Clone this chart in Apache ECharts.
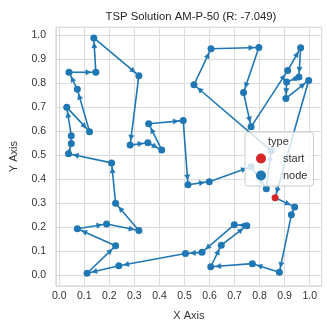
<!DOCTYPE html>
<html><head><meta charset="utf-8">
<script src="https://cdn.jsdelivr.net/npm/echarts@6/dist/echarts.min.js"></script>
<style>html,body{margin:0;padding:0;background:#fff}#c{width:327px;height:326px}</style>
</head><body><div id="c"></div>
<script>
// Tour order (first entry is the start node)
const tourX = [0.862,0.940,0.927,0.879,0.771,0.605,0.647,0.749,0.699,0.570,0.504,0.238,0.111,0.225,0.072,0.189,0.318,0.225,0.209,0.037,0.048,0.048,0.030,0.121,0.072,0.039,0.146,0.138,0.318,0.283,0.354,0.409,0.357,0.495,0.514,0.599,0.766,0.827,0.846,0.538,0.606,0.797,0.736,0.766,0.912,0.964,0.957,0.908,0.905,0.996];
const tourY = [0.322,0.284,0.251,0.012,0.048,0.035,0.125,0.206,0.210,0.095,0.090,0.039,0.008,0.122,0.193,0.213,0.186,0.299,0.467,0.505,0.548,0.580,0.698,0.597,0.773,0.844,0.844,0.987,0.830,0.541,0.551,0.521,0.630,0.643,0.376,0.389,0.451,0.360,0.518,0.792,0.942,0.947,0.760,0.617,0.851,0.946,0.824,0.803,0.735,0.810];
const xTicks = ['0.0','0.1','0.2','0.3','0.4','0.5','0.6','0.7','0.8','0.9','1.0'];
const titleText = 'TSP Solution AM-P-50 (R: -7.049)';

const BLUE = '#1f77b4', RED = '#d62728';
const segs = [];
for (let i = 0; i < tourX.length; i++) {
  const j = (i + 1) % tourX.length;
  segs.push([tourX[i], tourY[i], tourX[j], tourY[j]]);
}
const nodes = [];
for (let i = 1; i < tourX.length; i++) nodes.push([tourX[i], tourY[i]]);
const start = [[tourX[0], tourY[0]]];

const chart = echarts.init(document.getElementById('c'), null, {renderer: 'canvas'});
const FONT = 'Liberation Sans, Arial, sans-serif';
const axisCommon = {
  type: 'value', splitNumber: 10,
  axisLine: {show: false}, axisTick: {show: false},
  splitLine: {show: true, lineStyle: {color: '#dcdcdc', width: 1}},
  axisLabel: {color: '#333', fontSize: 10.5, fontFamily: FONT, showMinLabel: false, showMaxLabel: false,
    formatter: v => v.toFixed(1)},
  nameTextStyle: {color: '#333', fontSize: 11, fontFamily: FONT}
};
chart.setOption({
  animation: false,
  backgroundColor: '#fff',
  title: {text: titleText, left: 186, textAlign: 'center', top: 6,
    textStyle: {fontSize: 11.3, fontWeight: 'normal', color: '#262626', fontFamily: FONT}},
  grid: {left: 50, right: 5.3, top: 27.3, bottom: 34.3, show: true, borderColor: '#cccccc', borderWidth: 1},
  xAxis: Object.assign({}, axisCommon, {min: -0.013, max: 1.048, name: 'X Axis', nameLocation: 'middle', nameGap: 24,
    axisLabel: Object.assign({}, axisCommon.axisLabel, {margin: 5})}),
  yAxis: Object.assign({}, axisCommon, {min: -0.045, max: 1.031, name: 'Y Axis', nameLocation: 'middle', nameGap: 37,
    axisLabel: Object.assign({}, axisCommon.axisLabel, {margin: 10})}),
  legend: {
    orient: 'vertical', left: 245, top: 132, data: ['start', 'node'],
    padding: [21, 6, 5, 11], itemGap: 6, itemWidth: 10, itemHeight: 10,
    backgroundColor: 'rgba(255,255,255,0.8)', borderColor: '#cccccc', borderWidth: 1, borderRadius: 3,
    textStyle: {color: '#333', fontSize: 11, fontFamily: FONT, padding: [0, 0, 0, 12]},
    icon: 'circle'
  },
  graphic: [{type: 'text', left: 268, top: 136, z: 100,
    style: {text: 'type', fill: '#333', font: '11px Liberation Sans, Arial, sans-serif'}}],
  series: [
    {
      type: 'custom', name: 'tour', z: 2, silent: true,
      data: segs,
      renderItem: function (params, api) {
        const p1 = api.coord([api.value(0), api.value(1)]);
        const p2 = api.coord([api.value(2), api.value(3)]);
        const dx = p2[0] - p1[0], dy = p2[1] - p1[1];
        const L = Math.sqrt(dx * dx + dy * dy) || 1;
        const ux = dx / L, uy = dy / L;
        const tipD = 5, len = 5, hw = 2.6;
        const tx = p2[0] - ux * tipD, ty = p2[1] - uy * tipD;
        const bx = tx - ux * len, by = ty - uy * len;
        return {
          type: 'group', children: [
            {type: 'line', shape: {x1: p1[0], y1: p1[1], x2: p2[0], y2: p2[1]},
              style: {stroke: BLUE, lineWidth: 1.6}},
            {type: 'polygon', shape: {points: [[tx, ty], [bx - uy * hw, by + ux * hw], [bx + uy * hw, by - ux * hw]]},
              style: {fill: BLUE, stroke: BLUE, lineWidth: 0.5}}
          ]
        };
      }
    },
    {type: 'scatter', name: 'node', data: nodes, symbolSize: 7, z: 3, itemStyle: {color: BLUE, opacity: 1}},
    {type: 'scatter', name: 'start', data: start, symbolSize: 7, z: 3, itemStyle: {color: RED, opacity: 1}}
  ]
});
</script></body></html>
